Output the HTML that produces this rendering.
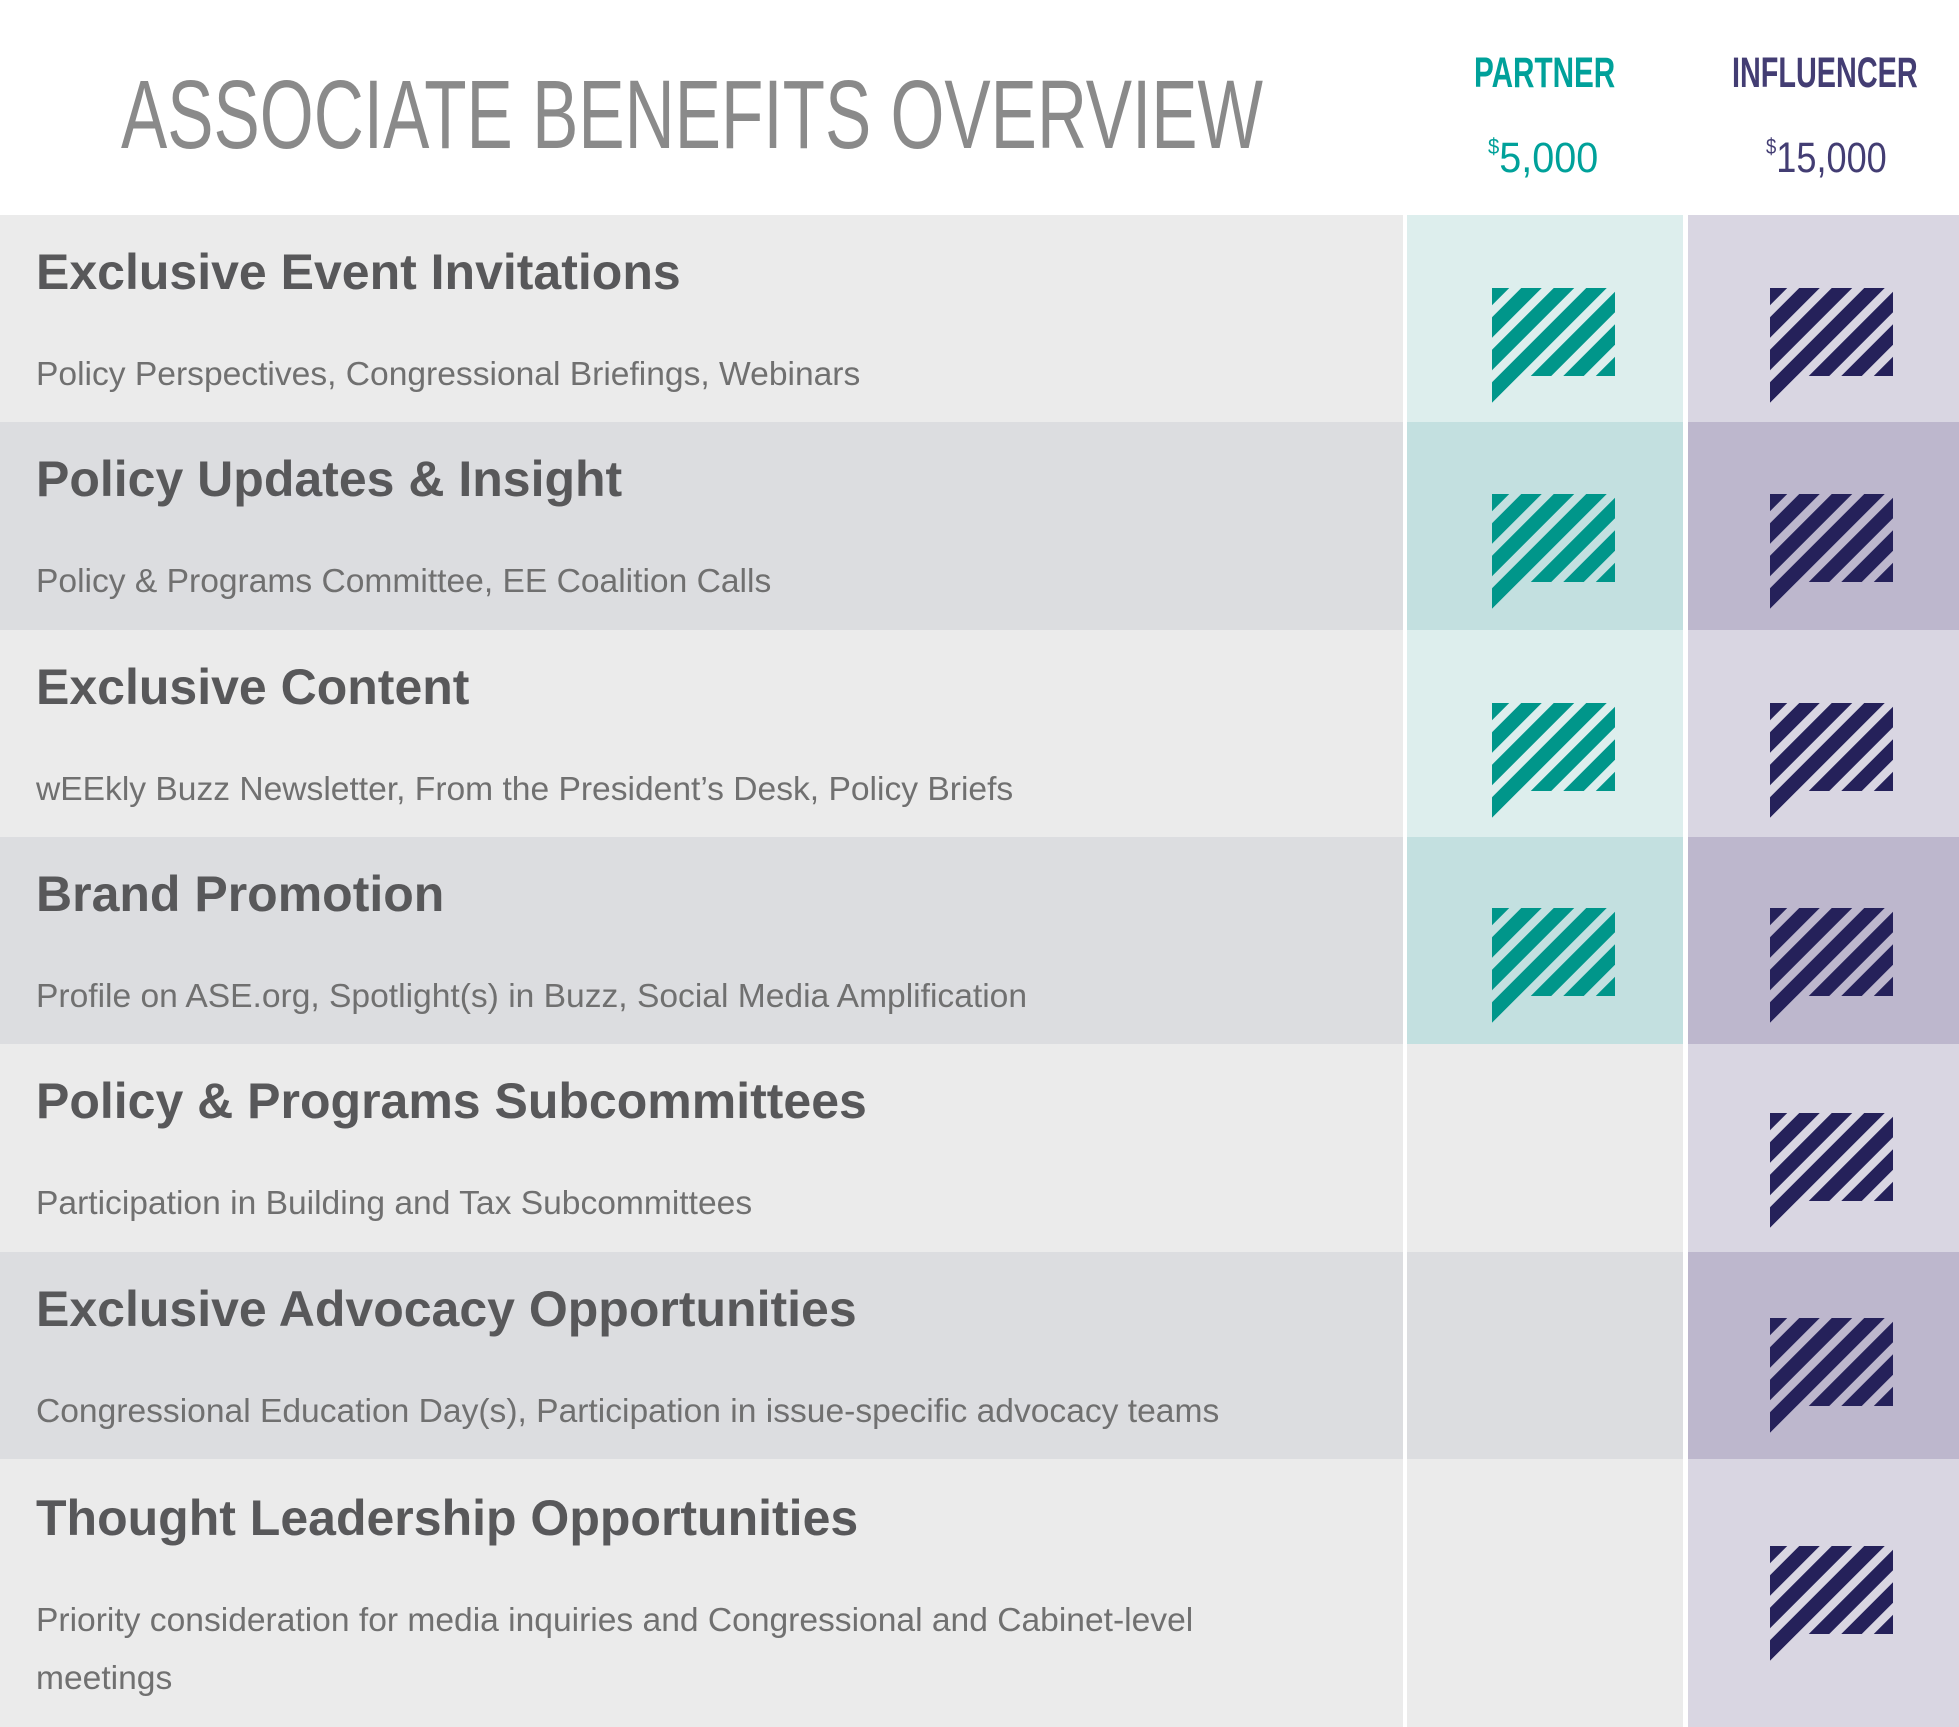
<!DOCTYPE html>
<html><head><meta charset="utf-8"><style>
*{margin:0;padding:0;box-sizing:border-box}
body{width:1959px;height:1727px;background:#fff;position:relative;overflow:hidden;font-family:"Liberation Sans",sans-serif}
.a{position:absolute;line-height:1;white-space:nowrap}
.row{position:absolute;left:0;width:1403px}
.pc{position:absolute;left:1407px;width:276px}
.ic{position:absolute;left:1688px;width:271px}
h2{position:absolute;left:36px;font-size:50px;font-weight:bold;color:#58585a;line-height:1;white-space:nowrap}
p{position:absolute;left:36px;font-size:33.6px;color:#707070;line-height:58px;white-space:nowrap}
svg.i{position:absolute;width:123px;height:115px}
</style></head><body>
<svg width="0" height="0" style="position:absolute">
<defs>
<clipPath id="cp"><polygon points="0,0 123,0 123,88 27,88 0,115"/></clipPath>
<g id="st" clip-path="url(#cp)" stroke-width="14.5">
<line x1="-50" y1="57" x2="57" y2="-50"/>
<line x1="-50" y1="89.5" x2="89.5" y2="-50"/>
<line x1="-50" y1="122" x2="122" y2="-50"/>
<line x1="-50" y1="154.5" x2="154.5" y2="-50"/>
<line x1="-50" y1="187" x2="187" y2="-50"/>
<line x1="-50" y1="219.5" x2="219.5" y2="-50"/>
<line x1="-50" y1="252" x2="252" y2="-50"/>
</g>
</defs></svg>

<div class="a" style="left:121px;top:66px;font-size:97px;color:#8a8a8a;transform:scaleX(0.715);transform-origin:0 0">ASSOCIATE BENEFITS OVERVIEW</div>
<div class="a" style="left:1474px;top:52px;font-size:43px;font-weight:bold;color:#00a19a;transform:scaleX(0.69);transform-origin:0 0">PARTNER</div>
<div class="a" style="left:1732px;top:52px;font-size:43px;font-weight:bold;color:#433d73;transform:scaleX(0.67);transform-origin:0 0">INFLUENCER</div>
<div class="a" style="left:1488px;top:136px;font-size:43px;color:#00a19a;transform:scaleX(0.92);transform-origin:0 0"><span style="font-size:22px;vertical-align:18px">$</span>5,000</div>
<div class="a" style="left:1766px;top:136px;font-size:43px;color:#433d73;transform:scaleX(0.84);transform-origin:0 0"><span style="font-size:22px;vertical-align:18px">$</span>15,000</div>

<div class="row" style="top:215px;height:207px;background:#ebebeb"></div>
<div class="row" style="top:422px;height:208px;background:#dcdde0"></div>
<div class="row" style="top:630px;height:207px;background:#ebebeb"></div>
<div class="row" style="top:837px;height:207px;background:#dcdde0"></div>
<div class="row" style="top:1044px;height:208px;background:#ebebeb"></div>
<div class="row" style="top:1252px;height:207px;background:#dcdde0"></div>
<div class="row" style="top:1459px;height:268px;background:#ebebeb"></div>

<div class="pc" style="top:215px;height:207px;background:#ddeeed"></div>
<div class="pc" style="top:422px;height:208px;background:#c3e0e0"></div>
<div class="pc" style="top:630px;height:207px;background:#ddeeed"></div>
<div class="pc" style="top:837px;height:207px;background:#c3e0e0"></div>
<div class="pc" style="top:1044px;height:208px;background:#ebebeb"></div>
<div class="pc" style="top:1252px;height:207px;background:#dcdde0"></div>
<div class="pc" style="top:1459px;height:268px;background:#ebebeb"></div>

<div class="ic" style="top:215px;height:207px;background:#d9d6e2"></div>
<div class="ic" style="top:422px;height:208px;background:#bdb7cd"></div>
<div class="ic" style="top:630px;height:207px;background:#d9d6e2"></div>
<div class="ic" style="top:837px;height:207px;background:#bdb7cd"></div>
<div class="ic" style="top:1044px;height:208px;background:#d9d6e2"></div>
<div class="ic" style="top:1252px;height:207px;background:#bdb7cd"></div>
<div class="ic" style="top:1459px;height:268px;background:#d9d6e2"></div>

<h2 style="top:247px">Exclusive Event Invitations</h2>
<p style="top:346px">Policy Perspectives, Congressional Briefings, Webinars</p>
<h2 style="top:454px">Policy Updates &amp; Insight</h2>
<p style="top:553px">Policy &amp; Programs Committee, EE Coalition Calls</p>
<h2 style="top:662px">Exclusive Content</h2>
<p style="top:761px">wEEkly Buzz Newsletter, From the President’s Desk, Policy Briefs</p>
<h2 style="top:869px">Brand Promotion</h2>
<p style="top:968px">Profile on ASE.org, Spotlight(s) in Buzz, Social Media Amplification</p>
<h2 style="top:1076px">Policy &amp; Programs Subcommittees</h2>
<p style="top:1175px">Participation in Building and Tax Subcommittees</p>
<h2 style="top:1284px">Exclusive Advocacy Opportunities</h2>
<p style="top:1383px">Congressional Education Day(s), Participation in issue-specific advocacy teams</p>
<h2 style="top:1493px">Thought Leadership Opportunities</h2>
<p style="top:1592px">Priority consideration for media inquiries and Congressional and Cabinet-level<br>meetings</p>

<svg class="i" style="left:1492px;top:288px" viewBox="0 0 123 115"><use href="#st" stroke="#00968a"/></svg>
<svg class="i" style="left:1492px;top:494px" viewBox="0 0 123 115"><use href="#st" stroke="#00968a"/></svg>
<svg class="i" style="left:1492px;top:703px" viewBox="0 0 123 115"><use href="#st" stroke="#00968a"/></svg>
<svg class="i" style="left:1492px;top:908px" viewBox="0 0 123 115"><use href="#st" stroke="#00968a"/></svg>

<svg class="i" style="left:1770px;top:288px" viewBox="0 0 123 115"><use href="#st" stroke="#25215a"/></svg>
<svg class="i" style="left:1770px;top:494px" viewBox="0 0 123 115"><use href="#st" stroke="#25215a"/></svg>
<svg class="i" style="left:1770px;top:703px" viewBox="0 0 123 115"><use href="#st" stroke="#25215a"/></svg>
<svg class="i" style="left:1770px;top:908px" viewBox="0 0 123 115"><use href="#st" stroke="#25215a"/></svg>
<svg class="i" style="left:1770px;top:1113px" viewBox="0 0 123 115"><use href="#st" stroke="#25215a"/></svg>
<svg class="i" style="left:1770px;top:1318px" viewBox="0 0 123 115"><use href="#st" stroke="#25215a"/></svg>
<svg class="i" style="left:1770px;top:1546px" viewBox="0 0 123 115"><use href="#st" stroke="#25215a"/></svg>
</body></html>
